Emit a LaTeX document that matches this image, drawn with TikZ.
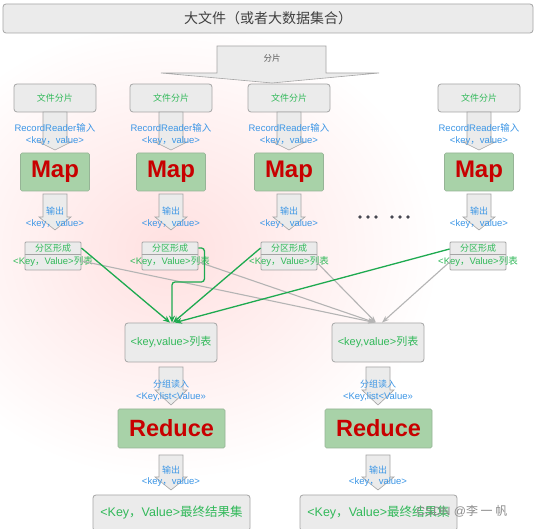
\documentclass[tikz,border=0pt]{standalone}
\usepackage{fontspec}
\setmainfont{Liberation Sans}
\newfontfamily\cjk{Noto Sans CJK SC}
\usetikzlibrary{arrows.meta}
\definecolor{boxgray}{RGB}{235,235,235}
\definecolor{edgegray}{RGB}{165,165,165}
\definecolor{mapgreen}{RGB}{168,210,168}
\definecolor{mapedge}{RGB}{150,180,150}
\definecolor{redtxt}{RGB}{200,0,0}
\definecolor{greentxt}{RGB}{50,185,90}
\definecolor{bluetxt}{RGB}{60,150,230}
\definecolor{linegreen}{RGB}{30,170,80}
\definecolor{linegray}{RGB}{180,180,180}
\definecolor{dotgray}{RGB}{70,70,80}
\newcommand\blockarr[4]{\draw[barrow] ({#1-12},#2) -- ({#1+12},#2) -- ({#1+12},#3) -- ({#1+16},#3) -- (#1,#4) -- ({#1-16},#3) -- ({#1-12},#3) -- cycle;}
\begin{document}
\begin{tikzpicture}[x=1pt,y=-1pt,
  barrow/.style={draw=edgegray, fill=boxgray, line width=0.6pt},
  graybox/.style={draw=edgegray, fill=boxgray, line width=0.8pt, rounded corners=3pt, inner sep=0pt},
  splitbox/.style={graybox, minimum width=82pt, minimum height=28pt, text=greentxt, font=\cjk\fontsize{9}{10}\selectfont},
  mapbox/.style={draw=mapedge, fill=mapgreen, line width=0.6pt, rounded corners=1.5pt, inner sep=0pt, text=redtxt, font=\bfseries\fontsize{24}{26}\selectfont},
  partbox/.style={draw=edgegray, fill=boxgray, line width=0.8pt, rounded corners=1pt, minimum width=56pt, minimum height=28pt, inner sep=0pt},
  bluelbl/.style={text=bluetxt, inner sep=0pt, font=\fontsize{9.5}{10}\selectfont},
  greenlbl/.style={text=greentxt, inner sep=0pt, font=\fontsize{9.5}{10}\selectfont},
  listbox/.style={graybox, minimum width=92pt, minimum height=39pt, text=greentxt, font=\fontsize{11}{12}\selectfont},
  finalbox/.style={graybox, minimum width=157pt, minimum height=36pt, text=greentxt, font=\fontsize{12.5}{13}\selectfont},
  gline/.style={draw=linegreen, line width=1.3pt, -{Stealth[length=7pt,width=6pt]}},
  grline/.style={draw=linegray, line width=1.1pt, -{Stealth[length=7pt,width=5pt]}},
]
\useasboundingbox (0,0) rectangle (539,529);
\fill[white] (0,0) rectangle (539,529);
\begin{scope}
\clip (0,0) rectangle (539,529);
\shade[inner color=red!12, outer color=white] (170,250) ellipse [x radius=270pt, y radius=230pt];
\end{scope}

% title banner
\node[graybox, minimum width=530pt, minimum height=29pt, font=\cjk\fontsize{14}{15}\selectfont, text=black!75] (title) at (268,18.5) {大文件（或者大数据集合）};

% split arrow
\draw[barrow] (217,46) -- (326,46) -- (326,73) -- (379,73) -- (272,83) -- (161,73) -- (217,73) -- cycle;
\node[inner sep=0pt, font=\cjk\fontsize{8.5}{9}\selectfont, text=black!65] (splitlbl) at (272,58) {分片};

% columns
\foreach \i/\cx in {1/55,2/171,3/289,4/479}{
  \node[splitbox] (f\i) at (\cx,98) {文件分片};
  \blockarr{\cx}{112}{142}{150}
  \node[bluelbl] (rr\i) at (\cx,128) {RecordReader{\cjk 输入}};
  \node[bluelbl] (kv\i) at (\cx,141) {<key{\cjk ，}value>};
  \node[mapbox, minimum width=69pt, minimum height=38pt] (m\i) at (\cx,172) {Map};
  \blockarr{\cx}{194}{217}{230}
  \node[bluelbl, font=\cjk\fontsize{9}{10}\selectfont] (out\i) at (\cx,211) {输出};
  \node[bluelbl] (okv\i) at (\cx,224) {<key{\cjk ，}value>};
}
\foreach \i/\cx in {1/53,2/170,3/289,4/478}{
  \node[partbox] (p\i) at (\cx,256) {};
  \draw[draw=edgegray, line width=0.6pt] ([yshift=2pt]p\i.west) -- ([yshift=2pt]p\i.east);
  \node[greenlbl, font=\cjk\fontsize{9}{10}\selectfont] (pa\i) at (\cx,248) {分区形成};
  \node[greenlbl] (pb\i) at (\cx,261) {<Key{\cjk ，}Value>{\cjk 列表}};
}

% dots
\foreach \dx in {360,368,376,392,400,408}{
  \fill[dotgray] (\dx,217) circle [radius=1.8pt];
}

% list boxes
\node[listbox] (L1) at (171,342.5) {<key,value>{\cjk 列表}};
\node[listbox] (L2) at (378,342.5) {<key,value>{\cjk 列表}};

% gray connectors
\draw[grline] ([yshift=-5pt]p1.east) -- ([xshift=-3pt]L2.north);
\draw[grline] ([yshift=-6pt]p2.east) -- ([xshift=-3pt]L2.north);
\draw[grline] ([yshift=-7pt]p3.east) -- ([xshift=-2pt]L2.north);
\draw[grline] ([yshift=-6pt]p4.west) -- ([xshift=4pt]L2.north);

% green connectors
\draw[gline] ([yshift=8pt]p1.east) -- ([xshift=-1pt]L1.north);
\draw[gline, rounded corners=3pt] ([yshift=8pt]p2.east) -- ++(6,0) -- ++(0,34) -| ([xshift=1pt]L1.north);
\draw[gline] ([yshift=8pt]p3.west) -- ([xshift=2pt]L1.north);
\draw[gline] ([yshift=7pt]p4.west) -- ([xshift=4pt]L1.north);

% reduce side
\foreach \i/\cx in {1/171,2/378}{
  \blockarr{\cx}{367}{390}{405}
  \node[bluelbl, font=\cjk\fontsize{9}{10}\selectfont] (g\i) at (\cx,384) {分组读入};
  \node[bluelbl] (gk\i) at (\cx,397) {<Key,list<Value>>};
  \node[mapbox, minimum width=107pt, minimum height=39pt, font=\bfseries\fontsize{23.5}{25}\selectfont] (R\i) at ({\cx+0.5},428.5) {Reduce};
  \blockarr{\cx}{455}{477}{490}
  \node[bluelbl, font=\cjk\fontsize{9}{10}\selectfont] (ro\i) at (\cx,470) {输出};
  \node[bluelbl] (rk\i) at (\cx,482) {<key{\cjk ，}value>};
  \node[finalbox] (F\i) at ({\cx+0.5},513) {<Key{\cjk ，}Value>{\cjk 最终结果集}};
}

% watermark
\node[inner sep=0pt, text=black!45, font=\fontsize{12}{13}\selectfont] (wm) at (462,511) {CSDN @{\cjk 李 一 帆}};
\end{tikzpicture}
\end{document}
